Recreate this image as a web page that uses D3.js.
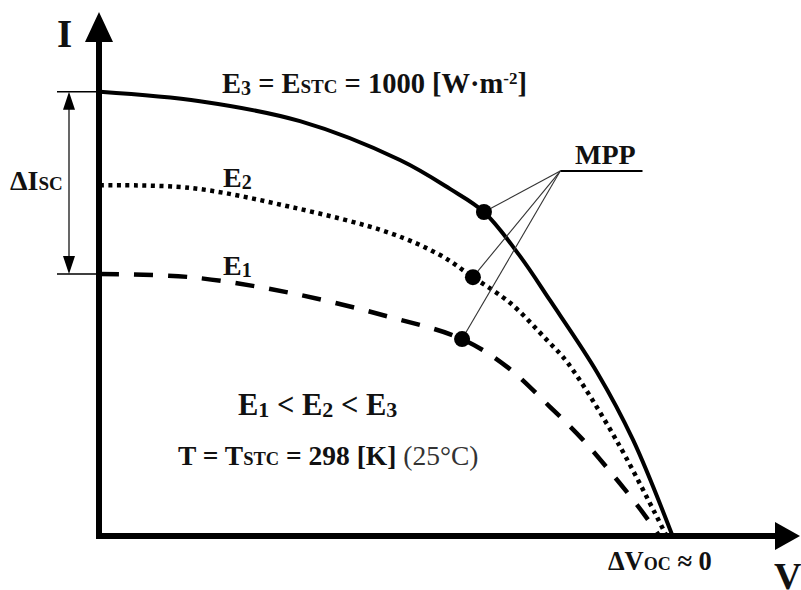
<!DOCTYPE html>
<html>
<head>
<meta charset="utf-8">
<script src="https://cdn.jsdelivr.net/npm/d3@7"></script>
<style>
body { margin: 0; background: #fff; }
text { font-family: "Liberation Serif", "Times New Roman", serif; font-weight: bold; fill: #111; }
</style>
</head>
<body>
<div id="chart"></div>
<script>
// I-V curves for three irradiance levels (V in volts, I in amps)
var e3V = [0, 5.71, 11.43, 17.14, 20.0, 21.94, 24.0, 25.71, 28.4, 30.46, 32.74];
var e3I = [8.48, 8.30, 7.92, 7.18, 6.63, 6.19, 5.35, 4.51, 3.14, 1.85, 0];
var e2V = [0, 5.14, 10.86, 16.57, 19.43, 21.31, 23.43, 25.54, 26.74, 29.6, 32.4];
var e2I = [6.70, 6.65, 6.29, 5.79, 5.37, 4.95, 4.46, 3.75, 3.31, 1.79, 0];
var e1V = [0, 5.14, 10.86, 16.57, 20.69, 23.26, 25.71, 27.6, 29.54, 31.03, 32.0];
var e1I = [5.01, 4.95, 4.65, 4.19, 3.77, 3.24, 2.48, 1.85, 1.09, 0.46, 0];

// maximum power points (E3, E2, E1)
var mppV = [21.94, 21.31, 20.69];
var mppI = [6.19, 4.95, 3.77];

// where the MPP leader lines meet, and the end of the underline
var mppHubV = 26.3, mppHubI = 6.97, mppEndV = 31.0;

const width = 801;
const height = 590;

const svg = d3.select("#chart")
    .append("svg")
    .attr("width", width)
    .attr("height", height);

const x = d3.scaleLinear().domain([0, 40]).range([100, 800]);
const y = d3.scaleLinear().domain([0, 10]).range([537, 12]);

const line = d3.line()
    .x(d => x(d[0]))
    .y(d => y(d[1]))
    .curve(d3.curveCatmullRom.alpha(0.5));

// axes with arrow heads
const x0 = x(0) - 1, y0 = y(0) - 1;
svg.append("path")
    .attr("d", `M${x0 - 3},${y0}H${x(40) - 22}`)
    .attr("stroke", "#000").attr("stroke-width", 6);
svg.append("path")
    .attr("d", `M${x0},${y0 + 3}V${y(10) + 26}`)
    .attr("stroke", "#000").attr("stroke-width", 6);
svg.append("path")
    .attr("d", `M${x(40)},${y0}L${x(40) - 25},${y0 - 14}L${x(40) - 25},${y0 + 14}Z`)
    .attr("fill", "#000");
svg.append("path")
    .attr("d", `M${x0},${y(10)}L${x0 - 14},${y(10) + 30}L${x0 + 14},${y(10) + 30}Z`)
    .attr("fill", "#000");

// curves
const curves = [
    { v: e3V, i: e3I, dash: null, w: 4 },
    { v: e2V, i: e2I, dash: "4 4.5", w: 4.5 },
    { v: e1V, i: e1I, dash: "19 15", w: 4.5 }
];
curves.forEach(function (c) {
    svg.append("path")
        .datum(d3.zip(c.v, c.i))
        .attr("d", line)
        .attr("fill", "none")
        .attr("stroke", "#000")
        .attr("stroke-width", c.w)
        .attr("stroke-dasharray", c.dash);
});

// Isc bracket
const isc3 = y(e3I[0]), isc1 = y(e1I[0]);
svg.append("path")
    .attr("d", `M${x0 - 42},${isc3}H${x0}M${x0 - 42},${isc1}H${x0 + 2}`)
    .attr("stroke", "#000").attr("stroke-width", 1.5);
const bx = x0 - 30;
svg.append("path")
    .attr("d", `M${bx},${isc3 + 10}V${isc1 - 10}`)
    .attr("stroke", "#000").attr("stroke-width", 1.2);
svg.append("path")
    .attr("d", `M${bx},${isc3}L${bx - 6},${isc3 + 18}L${bx + 6},${isc3 + 18}Z` +
        `M${bx},${isc1}L${bx - 6},${isc1 - 18}L${bx + 6},${isc1 - 18}Z`)
    .attr("fill", "#000");

// MPP leaders and dots
const hx = x(mppHubV), hy = y(mppHubI);
svg.append("path")
    .attr("d", `M${hx},${hy}H${x(mppEndV)}`)
    .attr("stroke", "#000").attr("stroke-width", 2);
svg.selectAll(".leader")
    .data(d3.zip(mppV, mppI))
    .enter().append("line")
    .attr("class", "leader")
    .attr("x1", hx).attr("y1", hy)
    .attr("x2", d => x(d[0])).attr("y2", d => y(d[1]))
    .attr("stroke", "#333").attr("stroke-width", 1.1);
svg.selectAll(".mpp")
    .data(d3.zip(mppV, mppI))
    .enter().append("circle")
    .attr("class", "mpp")
    .attr("cx", d => x(d[0])).attr("cy", d => y(d[1]))
    .attr("r", 8)
    .attr("fill", "#000");

// text with sub/superscripts
function label(px, py, size, parts) {
    const t = svg.append("text").attr("x", px).attr("y", py).attr("font-size", size);
    parts.forEach(function (p) {
        const s = t.append("tspan").text(p[0]);
        if (p[1]) s.attr("font-size", p[1]);
        if (p[2]) s.attr("dy", p[2]);
        if (p[3]) s.attr("font-weight", p[3]).style("fill", "#333");
    });
    return t;
}

label(57, 47, 39, [["I"]]);
label(774, 589, 38, [["V"]]);
label(222, 93, 28.5, [["E"], ["3", 20, 2], [" = E", 28.5, -2], ["STC", 19], [" = 1000 [W·m", 28.5], ["-2", 17, -9], ["]", 28.5, 9]]);
label(223, 187, 28, [["E"], ["2", 20, 2]]);
label(223, 275, 28, [["E"], ["1", 20, 2]]);
label(10, 190, 28, [["ΔI"], ["SC", 19]]);
label(575, 164, 28, [["MPP"]]);
label(238, 415, 30.5, [["E"], ["1", 22, 2], [" < E", 30.5, -2], ["2", 22, 2], [" < E", 30.5, -2], ["3", 22, 2]]);
label(178, 465, 27.5, [["T = T"], ["STC", 18.5], [" = 298 [K] ", 27.5], ["(25°C)", 27.5, 0, "normal"]]);
label(608, 570, 26.5, [["ΔV"], ["OC", 18], [" ≈ 0", 26.5]]);
</script>
</body>
</html>
